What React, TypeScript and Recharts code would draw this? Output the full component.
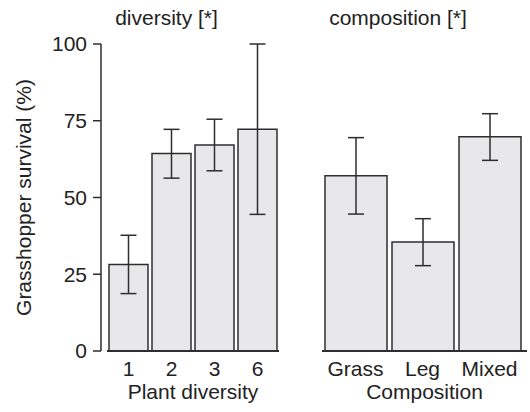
import React from 'react';
import { BarChart, Bar, XAxis, YAxis, ErrorBar, Label } from 'recharts';

// values (survival %, errors as [below, above])
const diversityLevels = ['1', '2', '3', '6'];
const diversitySurvival = [28.2, 64.3, 67.1, 72.2];
const diversityError = [[9.5, 9.5], [8.0, 7.9], [8.4, 8.4], [27.7, 27.8]];

const compositionTypes = ['Grass', 'Leg', 'Mixed'];
const compositionSurvival = [57.1, 35.5, 69.8];
const compositionError = [[12.5, 12.4], [7.7, 7.6], [7.7, 7.5]];

const yTicks = [0, 25, 50, 75, 100];

const FONT = '"Liberation Sans", Arial, Helvetica, sans-serif';
const INK = '#222';
const LINE = '#2e2e2e';
const FILL = '#e8e8ea';

const diversityData = diversityLevels.map((level, i) => ({
  level,
  survival: diversitySurvival[i],
  err: diversityError[i],
}));

const compositionData = compositionTypes.map((type, i) => ({
  type,
  survival: compositionSurvival[i],
  err: compositionError[i],
}));

const tickStyle = { fontSize: 21, fill: INK, fontFamily: FONT };

export default function App() {
  return (
    <div style={{ position: 'absolute', left: 0, top: 0, width: 530, height: 412, background: '#fff', fontFamily: FONT }}>
      <div style={{ position: 'absolute', left: 0, top: 0 }}>
        <BarChart width={290} height={412} data={diversityData} margin={{ top: 44, right: 11, bottom: 0, left: 0 }}>
          <XAxis
            dataKey="level"
            height={61}
            tickLine={false}
            tickSize={8}
            tickMargin={2}
            axisLine={{ stroke: LINE, strokeWidth: 2 }}
            tick={tickStyle}
            interval={0}
          >
            <Label value="Plant diversity" position="insideBottom" offset={13} style={tickStyle} />
          </XAxis>
          <YAxis
            domain={[0, 100]}
            ticks={yTicks}
            width={107}
            tickSize={8}
            tickMargin={12}
            axisLine={{ stroke: LINE, strokeWidth: 1.5, transform: 'translate(-6,0)' }}
            tickLine={{ stroke: LINE, strokeWidth: 1.5, transform: 'translate(-6,0)' }}
            tick={tickStyle}
          >
            <Label value="Grasshopper survival (%)" angle={-90} position="center" dx={-30} style={tickStyle} />
          </YAxis>
          <Bar dataKey="survival" barSize={39} fill={FILL} stroke={LINE} strokeWidth={1.5} isAnimationActive={false}>
            <ErrorBar dataKey="err" direction="y" width={8} stroke={LINE} strokeWidth={1.5} />
          </Bar>
        </BarChart>
      </div>
      <div style={{ position: 'absolute', left: 290, top: 0 }}>
        <BarChart width={240} height={412} data={compositionData} margin={{ top: 44, right: 3, bottom: 0, left: 32 }}>
          <XAxis
            dataKey="type"
            height={61}
            tickLine={false}
            tickSize={8}
            tickMargin={2}
            padding={{ left: 0, right: 4 }}
            axisLine={{ stroke: LINE, strokeWidth: 2 }}
            tick={tickStyle}
            interval={0}
          >
            <Label value="Composition" position="insideBottom" offset={13} style={tickStyle} />
          </XAxis>
          <YAxis domain={[0, 100]} ticks={yTicks} hide />
          <Bar dataKey="survival" barSize={62} fill={FILL} stroke={LINE} strokeWidth={1.5} isAnimationActive={false}>
            <ErrorBar dataKey="err" direction="y" width={8} stroke={LINE} strokeWidth={1.5} />
          </Bar>
        </BarChart>
      </div>
      <svg width={530} height={412} style={{ position: 'absolute', left: 0, top: 0, pointerEvents: 'none' }}>
        <text x={166.5} y={25} textAnchor="middle" fontSize={21} fill={INK} fontFamily={FONT}>diversity [*]</text>
        <text x={398} y={25} textAnchor="middle" fontSize={21} fill={INK} fontFamily={FONT}>composition [*]</text>
      </svg>
    </div>
  );
}
